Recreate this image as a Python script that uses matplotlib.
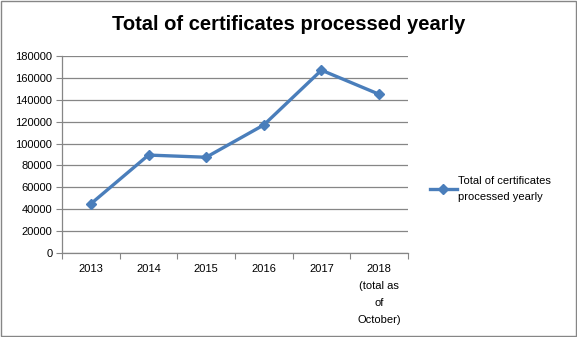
import matplotlib
matplotlib.use("Agg")
import matplotlib.pyplot as plt
from matplotlib.patches import Rectangle

years = ["2013", "2014", "2015", "2016", "2017", "2018\n(total as\nof\nOctober)"]
certificates = [45000, 89500, 87500, 117000, 167000, 145000]
series_name = "Total of certificates\nprocessed yearly"

blue = "#4A7EBB"
grid = "#868686"

plt.rcParams["font.family"] = ["Liberation Sans", "DejaVu Sans"]

fig = plt.figure(figsize=(5.77, 3.37), dpi=100)
ax = fig.add_axes([0.1075, 0.249, 0.5995, 0.585])

x = list(range(len(years)))
ax.plot(x, certificates, color=blue, lw=2.4, marker="D", ms=5.5,
        label=series_name)

ax.set_xlim(-0.5, len(years) - 0.5)
ax.set_ylim(0, 180000)
ax.set_yticks(range(0, 180001, 20000))
ax.yaxis.grid(True, color=grid, lw=0.9)
ax.set_axisbelow(True)

# category boundaries carry the tick marks, labels sit in between
ax.set_xticks([i - 0.5 for i in range(len(years) + 1)])
ax.set_xticklabels([])
ax.set_xticks(x, minor=True)
ax.set_xticklabels(years, minor=True, fontsize=8, linespacing=1.85)
ax.tick_params(axis="x", which="minor", length=0, pad=8)
ax.tick_params(axis="x", which="major", length=4, color=grid)
ax.tick_params(axis="y", length=4, color=grid, labelsize=8, pad=3)

for side in ("top", "right"):
    ax.spines[side].set_visible(False)
for side in ("left", "bottom"):
    ax.spines[side].set_color(grid)
    ax.spines[side].set_linewidth(0.9)

fig.suptitle("Total of certificates processed yearly", x=0.5, y=0.955,
             fontsize=14.5, fontweight="bold")

leg = ax.legend(loc="center left", bbox_to_anchor=(1.035, 0.325), frameon=False,
                fontsize=8, handlelength=2.4, handletextpad=0.15)
for t in leg.get_texts():
    t.set_linespacing(1.7)

fig.patches.append(Rectangle((0.001, 0.002), 0.997, 0.995, transform=fig.transFigure,
                             fill=False, edgecolor=grid, lw=1.0))

fig.savefig("out.png", dpi=100)
